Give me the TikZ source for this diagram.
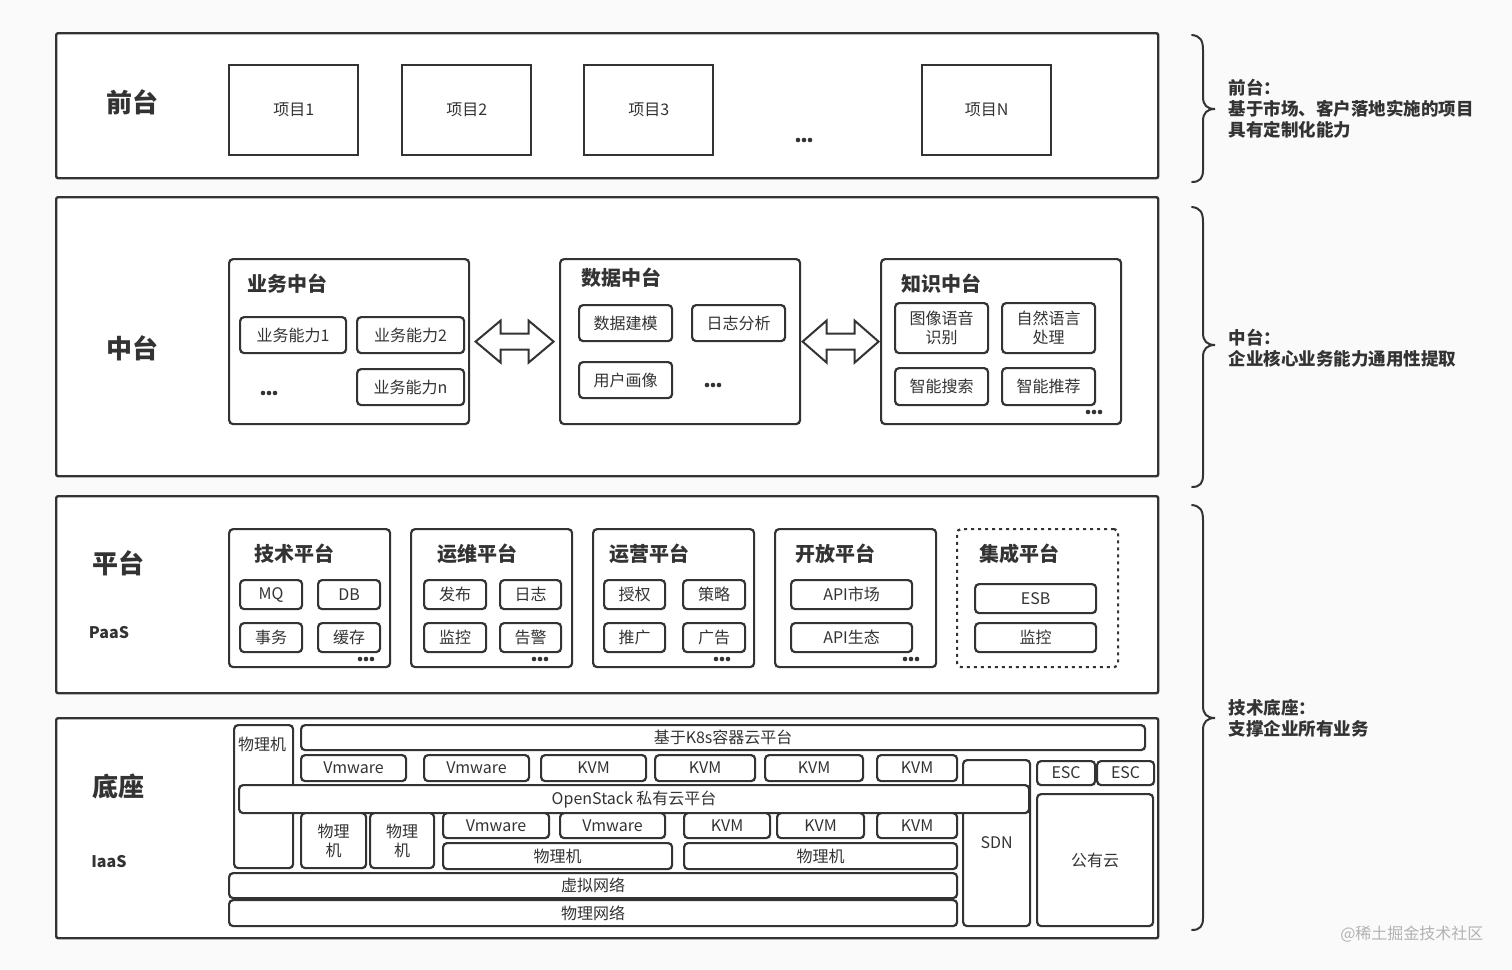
\documentclass[tikz,border=0pt]{standalone}
\usepackage{fontspec}
\setmainfont{Noto Sans CJK SC}
\usetikzlibrary{calc}
\definecolor{ink}{HTML}{333333}
\definecolor{bg}{HTML}{FAFAFA}
\newcommand\fsz[2][1.2]{\fontsize{#2pt}{#1\dimexpr #2pt\relax}\selectfont}
\newcommand\mybox[7][]{\node[#1, anchor=north west, minimum width={#5-#3}, minimum height={#6-#4}] (#2) at (#3,#4) {#7};}
\tikzset{
  layer/.style={draw=ink, line width=2.4pt, fill=white, rounded corners=2pt, inner sep=0pt},
  item/.style={draw=ink, line width=2.4pt, fill=white, inner sep=0pt, text=ink, font=\fsz{16}},
  grp/.style={draw=ink, line width=2.2pt, fill=white, rounded corners=4pt, inner sep=0pt},
  cell/.style={draw=ink, line width=2.2pt, fill=white, rounded corners=4pt, inner sep=0pt, text=ink, font=\fsz{16}, align=center},
  cell2/.style={cell, font=\fontsize{16pt}{19pt}\selectfont},
  lbl/.style={text=ink, font=\bfseries\fsz{26}},
  sublbl/.style={text=ink, font=\bfseries\fsz{16}},
  ttl/.style={text=ink, font=\bfseries\fsz{20}},
  note/.style={text=ink, font=\bfseries\fontsize{17.5pt}{21pt}\selectfont, align=left, anchor=west},
  txt/.style={text=ink, font=\fsz{16}},
  brace/.style={draw=ink, line width=2pt, line cap=round},
  dblarrow/.style={draw=ink, line width=2pt, fill=white, line join=miter},
  threedots/.pic={\fill[ink] (-6,0) circle (2.3pt) (0,0) circle (2.3pt) (6,0) circle (2.3pt);}
}
\begin{document}
\begin{tikzpicture}[x=1pt,y=-1pt]
\fill[bg] (0,0) rectangle (1512,969);
\useasboundingbox (0,0) rectangle (1512,969);

% ---------- 前台 ----------
\mybox[layer]{front}{55}{32}{1157}{177}{}
\node[lbl] (frontlbl) at (132,102) {前台};
\mybox[item]{p1}{228}{64}{357}{154}{项目1}
\mybox[item]{p2}{401}{64}{530}{154}{项目2}
\mybox[item]{p3}{583}{64}{712}{154}{项目3}
\mybox[item]{pn}{921}{64}{1050}{154}{项目N}
\pic at (804,140) {threedots};

% ---------- 中台 ----------
\mybox[layer]{middle}{55}{196}{1157}{475}{}
\node[lbl] (midlbl) at (132,348) {中台};

\mybox[grp]{biz}{228}{258}{468}{423}{}
\node[ttl, anchor=west] (biztitle) at (244,284) {业务中台};
\mybox[cell]{b1}{239}{316}{345}{352}{业务能力1}
\mybox[cell]{b2}{356}{316}{463}{352}{业务能力2}
\mybox[cell]{bn}{356}{368}{463}{404}{业务能力n}
\pic at (269,393) {threedots};

\mybox[grp]{data}{559}{258}{799}{423}{}
\node[ttl, anchor=west] (datatitle) at (578,278) {数据中台};
\mybox[cell]{d1}{578}{304}{671}{340}{数据建模}
\mybox[cell]{d2}{691}{304}{784}{340}{日志分析}
\mybox[cell]{d3}{578}{361}{671}{397}{用户画像}
\pic at (713,385) {threedots};

\mybox[grp]{know}{880}{258}{1120}{423}{}
\node[ttl, anchor=west] (knowtitle) at (898,284) {知识中台};
\mybox[cell2]{k1}{894}{302}{987}{352}{图像语音\\识别}
\mybox[cell2]{k2}{1001}{302}{1094}{352}{自然语言\\处理}
\mybox[cell]{k3}{894}{367}{987}{404}{智能搜索}
\mybox[cell]{k4}{1001}{367}{1094}{404}{智能推荐}
\pic at (1094,412) {threedots};

% double arrows
\coordinate (a1) at ($(biz.east)!0.5!(data.west)$);
\draw[dblarrow] ($(a1)+(-39,0)$) -- ++(25,-21) -- ++(0,13) -- ++(28,0) -- ++(0,-13) -- ++(25,21) -- ++(-25,21) -- ++(0,-13) -- ++(-28,0) -- ++(0,13) -- cycle;
\coordinate (a2) at ($(data.east)!0.5!(know.west)$);
\draw[dblarrow] ($(a2)+(-38,0)$) -- ++(24,-21) -- ++(0,13) -- ++(28,0) -- ++(0,-13) -- ++(24,21) -- ++(-24,21) -- ++(0,-13) -- ++(-28,0) -- ++(0,13) -- cycle;

% ---------- 平台 ----------
\mybox[layer]{plat}{55}{495}{1157}{692}{}
\node[lbl] (platlbl) at (118,563) {平台};
\node[sublbl] (paas) at (109,633) {PaaS};

\mybox[grp]{tech}{228}{528}{389}{666}{}
\node[ttl, anchor=west] (techtitle) at (251,554) {技术平台};
\mybox[cell]{t1}{239}{579}{301}{608}{MQ}
\mybox[cell]{t2}{317}{579}{379}{608}{DB}
\mybox[cell]{t3}{239}{622}{301}{651}{事务}
\mybox[cell]{t4}{317}{622}{379}{651}{缓存}
\pic at (366,659) {threedots};

\mybox[grp]{ops}{410}{528}{571}{666}{}
\node[ttl, anchor=west] (opstitle) at (434,554) {运维平台};
\mybox[cell]{o1}{423}{579}{485}{608}{发布}
\mybox[cell]{o2}{499}{579}{560}{608}{日志}
\mybox[cell]{o3}{423}{622}{485}{651}{监控}
\mybox[cell]{o4}{499}{622}{560}{651}{告警}
\pic at (540,659) {threedots};

\mybox[grp]{run}{592}{528}{753}{666}{}
\node[ttl, anchor=west] (runtitle) at (606,554) {运营平台};
\mybox[cell]{r1}{603}{579}{664}{608}{授权}
\mybox[cell]{r2}{682}{579}{744}{608}{策略}
\mybox[cell]{r3}{603}{622}{664}{651}{推广}
\mybox[cell]{r4}{682}{622}{744}{651}{广告}
\pic at (722,659) {threedots};

\mybox[grp]{open}{774}{528}{935}{666}{}
\node[ttl, anchor=west] (opentitle) at (792,554) {开放平台};
\mybox[cell]{op1}{790}{579}{911}{608}{API市场}
\mybox[cell]{op2}{790}{622}{911}{651}{API生态}
\pic at (911,659) {threedots};

\mybox[grp, dash pattern=on 3pt off 4pt]{integ}{956}{528}{1117}{666}{}
\node[ttl, anchor=west] (integtitle) at (976,554) {集成平台};
\mybox[cell]{i1}{974}{583}{1095}{612}{ESB}
\mybox[cell]{i2}{974}{622}{1095}{651}{监控}

% ---------- 底座 ----------
\mybox[layer]{base}{55}{717}{1157}{937}{}
\node[lbl] (baselbl) at (118,786) {底座};
\node[sublbl] (iaas) at (109,862) {IaaS};

\mybox[cell]{pmtall}{233}{724}{292}{867}{}
\node[txt] (pmtalltxt) at (262,744) {物理机};
\mybox[cell]{k8s}{300}{724}{1144}{749}{基于K8s容器云平台}
\mybox[cell]{v1}{300}{754}{405}{780}{Vmware}
\mybox[cell]{v2}{423}{754}{528}{780}{Vmware}
\mybox[cell]{kv1}{540}{754}{645}{780}{KVM}
\mybox[cell]{kv2}{654}{754}{754}{780}{KVM}
\mybox[cell]{kv3}{764}{754}{862}{780}{KVM}
\mybox[cell]{kv4}{876}{754}{956}{780}{KVM}
\mybox[cell]{sdn}{962}{759}{1029}{925}{SDN}
\mybox[cell]{esc1}{1036}{760}{1094}{784}{ESC}
\mybox[cell]{esc2}{1096}{760}{1153}{784}{ESC}
\mybox[cell]{pub}{1036}{793}{1152}{925}{公有云}
\mybox[cell]{openstack}{238}{784}{1028}{812}{OpenStack 私有云平台}
\mybox[cell2]{pm1}{300}{812}{365}{867}{物理\\机}
\mybox[cell2]{pm2}{369}{812}{433}{867}{物理\\机}
\mybox[cell]{v3}{442}{812}{548}{837}{Vmware}
\mybox[cell]{v4}{559}{812}{664}{837}{Vmware}
\mybox[cell]{kv5}{683}{812}{769}{837}{KVM}
\mybox[cell]{kv6}{776}{812}{863}{837}{KVM}
\mybox[cell]{kv7}{876}{812}{956}{837}{KVM}
\mybox[cell]{pm3}{442}{842}{671}{868}{物理机}
\mybox[cell]{pm4}{683}{842}{956}{868}{物理机}
\mybox[cell]{vnet}{228}{872}{956}{897}{虚拟网络}
\mybox[cell]{pnet}{228}{899}{956}{925}{物理网络}

% ---------- braces ----------
\draw[brace] (1192,35) .. controls (1200,36) and (1203,40) .. (1203,50) -- (1203,97) .. controls (1203,105) and (1207,109) .. (1215,109) .. controls (1207,109) and (1203,113) .. (1203,121) -- (1203,170) .. controls (1203,178) and (1200,182) .. (1192,182);
\node[note] (n1) at (1225,109) {前台：\\基于市场、客户落地实施的项目\\具有定制化能力};

\draw[brace] (1192,207) .. controls (1200,208) and (1203,212) .. (1203,222) -- (1203,333) .. controls (1203,341) and (1207,345) .. (1215,345) .. controls (1207,345) and (1203,349) .. (1203,357) -- (1203,475) .. controls (1203,483) and (1200,487) .. (1192,487);
\node[note] (n2) at (1225,348) {中台：\\企业核心业务能力通用性提取};

\draw[brace] (1192,505) .. controls (1200,506) and (1203,510) .. (1203,520) -- (1203,706) .. controls (1203,714) and (1207,718) .. (1215,718) .. controls (1207,718) and (1203,722) .. (1203,730) -- (1203,918) .. controls (1203,926) and (1200,930) .. (1192,930);
\node[note] (n3) at (1225,718) {技术底座：\\支撑企业所有业务};

\node[text=black!30, font=\fsz{16}, anchor=east] (wm) at (1487,934) {@稀土掘金技术社区};
\end{tikzpicture}
\end{document}
